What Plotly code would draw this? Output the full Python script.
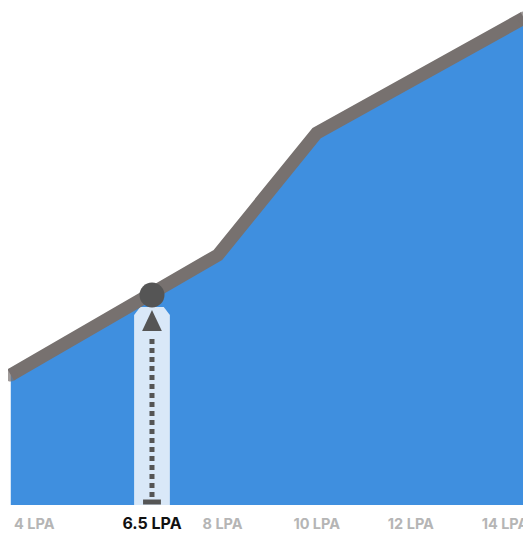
import plotly.graph_objects as go

# Data
salary_x = [3.5, 6.5, 7.9, 10.0, 14.4]       # LPA
growth_y = [130, 210, 250, 372, 487]         # relative value
marker_x = 6.5
marker_y = 210
tick_vals = [4, 6.5, 8, 10, 12, 14]
tick_labels = ["4 LPA", "6.5 LPA", "8 LPA", "10 LPA", "12 LPA", "14 LPA"]

AREA = "#3f8fdf"
LINE = "#77716f"
DARK = "#555555"
HL = "#d9e8f8"

fig = go.Figure()

# area
fig.add_trace(go.Scatter(x=salary_x, y=growth_y, mode="lines", fill="tozeroy",
                         fillcolor=AREA, line=dict(width=0, color=AREA),
                         hoverinfo="skip"))

# highlight column
hw, hi = 0.38, 0.25
top = marker_y - 12
sh = marker_y - 20
fig.add_trace(go.Scatter(
    x=[marker_x - hw, marker_x - hw, marker_x - hi, marker_x + hi, marker_x + hw, marker_x + hw, marker_x - hw],
    y=[0, sh, top, top, sh, 0, 0],
    mode="lines", fill="toself", fillcolor=HL, line=dict(width=0, color=HL),
    hoverinfo="skip"))

# main line (round end caps via end markers)
cap_sizes = [13 if i in (0, len(salary_x) - 1) else 0 for i in range(len(salary_x))]
fig.add_trace(go.Scatter(x=salary_x, y=growth_y, mode="lines+markers",
                         line=dict(width=13, color=LINE, shape="linear"),
                         marker=dict(size=cap_sizes, color=LINE, line=dict(width=0)),
                         cliponaxis=False, hoverinfo="skip"))

# dotted line
fig.add_trace(go.Scatter(x=[marker_x, marker_x], y=[8, marker_y - 40], mode="lines",
                         line=dict(width=5, color=DARK, dash="5px,4px"),
                         hoverinfo="skip"))

# arrow head
tw = 0.21
fig.add_trace(go.Scatter(
    x=[marker_x - tw, marker_x + tw, marker_x, marker_x - tw],
    y=[marker_y - 36, marker_y - 36, marker_y - 15, marker_y - 36],
    mode="lines", fill="toself", fillcolor=DARK, line=dict(width=0, color=DARK),
    hoverinfo="skip"))

# base bar
fig.add_trace(go.Scatter(x=[marker_x - 0.19, marker_x + 0.19], y=[3, 3], mode="lines",
                         line=dict(width=5, color=DARK), hoverinfo="skip"))

# point
fig.add_trace(go.Scatter(x=[marker_x], y=[marker_y], mode="markers",
                         marker=dict(size=25, color=DARK, line=dict(width=0)),
                         hoverinfo="skip"))

ticktext = []
for v, t in zip(tick_vals, tick_labels):
    if v == marker_x:
        ticktext.append("<b><span style='color:#111111;font-size:16px'>" + t + "</span></b>")
    else:
        ticktext.append("<b>" + t + "</b>")

fig.update_layout(
    width=523, height=527,
    margin=dict(l=0, r=0, t=0, b=30),
    paper_bgcolor="white", plot_bgcolor="white",
    showlegend=False,
    xaxis=dict(range=[3.441, 14.552], showgrid=False, zeroline=False, showline=False,
               tickvals=tick_vals, ticktext=ticktext, ticks="",
               tickfont=dict(family="Inter", size=14.5, color="#b5b5b5"),
               ticklabelstandoff=8, fixedrange=True),
    yaxis=dict(range=[0, 497], visible=False, fixedrange=True),
)

fig.write_html("out.html")
